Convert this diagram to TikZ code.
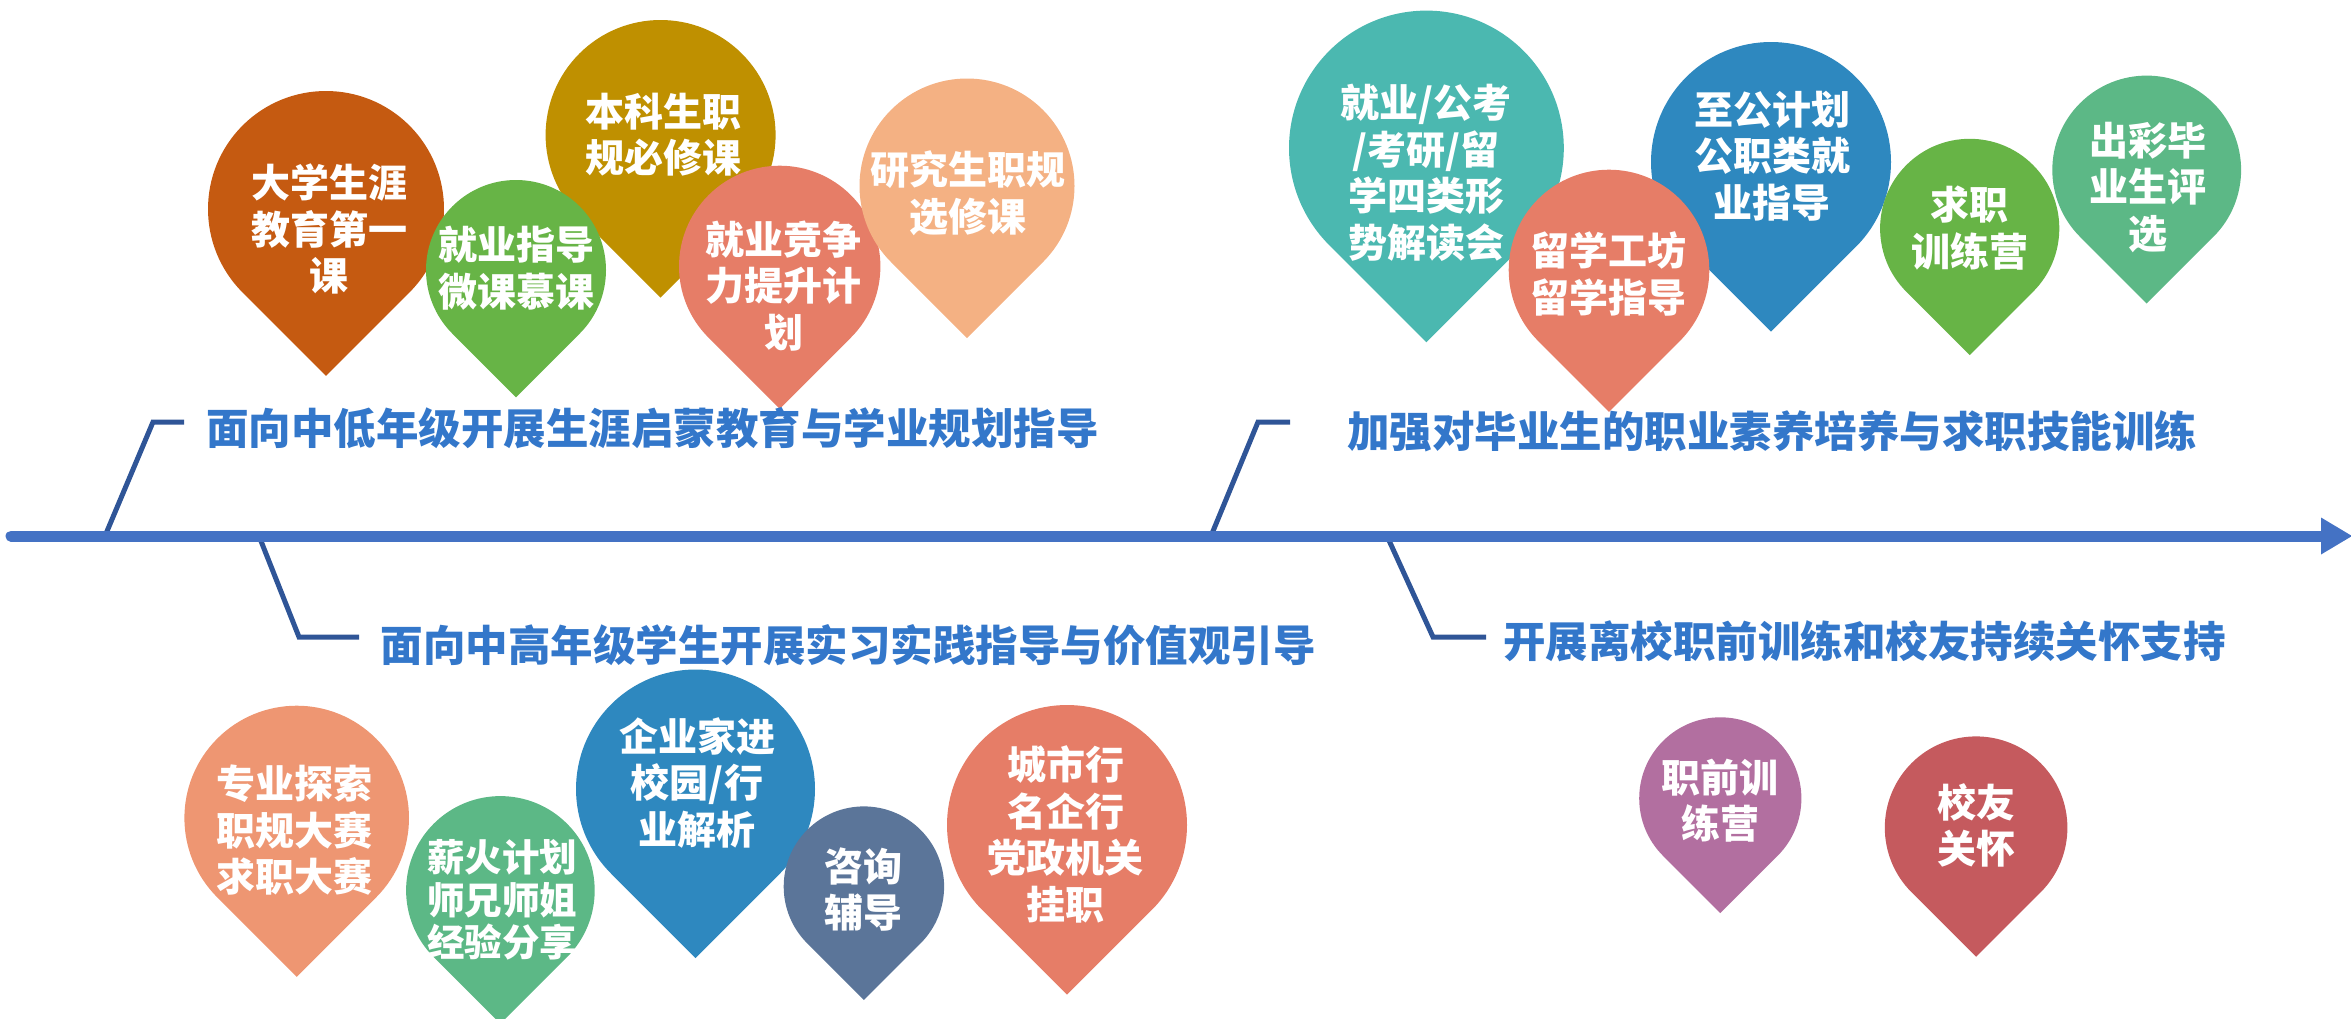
\documentclass[tikz,border=0pt]{standalone}
\usepackage{fontspec}
\setmainfont{Noto Sans CJK SC}
\definecolor{cBrown}{HTML}{C55A11}
\definecolor{cGold}{HTML}{BF9000}
\definecolor{cGreen}{HTML}{67B446}
\definecolor{cSalmon}{HTML}{E67D67}
\definecolor{cPeach}{HTML}{F4B183}
\definecolor{cTeal}{HTML}{4BB8B0}
\definecolor{cBlue}{HTML}{2E88BF}
\definecolor{cGreenB}{HTML}{5CB886}
\definecolor{cOrange}{HTML}{EE9672}
\definecolor{cSlate}{HTML}{5B7599}
\definecolor{cPurple}{HTML}{B26FA0}
\definecolor{cRed}{HTML}{C55A5E}
\definecolor{titleblue}{HTML}{3377CA}
\definecolor{axisblue}{HTML}{4472C4}
\definecolor{brdark}{HTML}{2F5597}
\newcommand\drawpin[4]{\fill[#4] (#1,-#2) ++(-45:#3pt) arc[start angle=-45,end angle=225,radius=#3pt] -- (#1,{-#2-1.41421*#3}) -- cycle;}
\begin{document}
\begin{tikzpicture}[x=1pt,y=1pt,
  pintext/.style={text=white,font=\fontsize{39}{46.5}\selectfont\bfseries,align=center,inner sep=0pt},
  smalltext/.style={pintext,font=\fontsize{37.5}{42.5}\selectfont\bfseries},
  title/.style={text=titleblue,font=\fontsize{42.5}{50}\selectfont\bfseries,anchor=west,inner sep=0pt},
  bracket/.style={draw=brdark,line width=5pt,line join=miter}]
\useasboundingbox (0,0) rectangle (2351,-1018);
% brackets
\coordinate (a1) at (105,-536); \coordinate (k1) at (153,-422); \coordinate (e1) at (184,-422);
\coordinate (a2) at (1211,-536); \coordinate (k2) at (1258,-422); \coordinate (e2) at (1290,-422);
\coordinate (a3) at (259,-536); \coordinate (k3) at (299,-637); \coordinate (e3) at (359,-637);
\coordinate (a4) at (1387,-536); \coordinate (k4) at (1433,-637); \coordinate (e4) at (1486,-637);
\draw[bracket] (a1) -- (k1) -- (e1);
\draw[bracket] (a2) -- (k2) -- (e2);
\draw[bracket] (a3) -- (k3) -- (e3);
\draw[bracket] (a4) -- (k4) -- (e4);
% axis
\coordinate (ax0) at (11,-536); \coordinate (ax1) at (2324,-536);
\draw[axisblue,line width=11pt,line cap=round] (ax0) -- (ax1);
\fill[axisblue] (2321,-517.5) -- (2352,-536) -- (2321,-554.5) -- cycle;
% top-left pins
\drawpin{326}{209}{118}{cBrown}
\drawpin{660.6}{135}{115}{cGold}
\drawpin{516}{270}{90}{cGreen}
\drawpin{779.7}{266.4}{100.7}{cSalmon}
\drawpin{967}{186}{107.5}{cPeach}
% top-right pins
\drawpin{1426.4}{148}{137.4}{cTeal}
\drawpin{1771}{162}{120}{cBlue}
\drawpin{1609}{270}{100.3}{cSalmon}
\drawpin{1969.7}{228.4}{89.6}{cGreen}
\drawpin{2146.7}{170}{94.4}{cGreenB}
% bottom pins
\drawpin{296.7}{818}{112.3}{cOrange}
\drawpin{695.5}{789}{119.5}{cBlue}
\drawpin{500.4}{890.4}{94.3}{cGreenB}
\drawpin{863.9}{886.6}{80.2}{cSlate}
\drawpin{1067}{825}{120}{cSalmon}
\drawpin{1720.3}{798.4}{81.1}{cPurple}
\drawpin{1976.1}{827.7}{91.3}{cRed}
% pin texts
\node[pintext] (p1) at (329,-229) {大学生涯\\教育第一\\课};
\node[pintext] (p2) at (516,-268) {就业指导\\微课慕课};
\node[pintext] (p3) at (663,-134.5) {本科生职\\规必修课};
\node[pintext] (p4) at (783.6,-286) {就业竞争\\力提升计\\划};
\node[pintext] (p5) at (968,-193.5) {研究生职规\\选修课};
\node[pintext] (p6) at (1426,-173) {就业/公考\\/考研/留\\学四类形\\势解读会};
\node[pintext] (p7) at (1608,-274) {留学工坊\\留学指导};
\node[pintext] (p8) at (1772,-156) {至公计划\\公职类就\\业指导};
\node[pintext] (p9) at (1969.7,-228) {求职\\训练营};
\node[pintext] (p10) at (2148,-187.5) {出彩毕\\业生评\\选};
\node[pintext] (b1) at (294.5,-830.4) {专业探索\\职规大赛\\求职大赛};
\node[smalltext] (b2) at (502,-900) {薪火计划\\师兄师姐\\经验分享};
\node[pintext] (b3) at (697,-782.8) {企业家进\\校园/行\\业解析};
\node[pintext] (b4) at (863,-889.7) {咨询\\辅导};
\node[pintext] (b5) at (1065.5,-834.2) {城市行\\名企行\\党政机关\\挂职};
\node[pintext] (b6) at (1720,-800.7) {职前训\\练营};
\node[pintext] (b7) at (1976.5,-825.5) {校友\\关怀};
% titles
\node[title] (t1) at (206,-428.6) {面向中低年级开展生涯启蒙教育与学业规划指导};
\node[title] (t2) at (1347,-431) {加强对毕业生的职业素养培养与求职技能训练};
\node[title] (t3) at (380.5,-645.5) {面向中高年级学生开展实习实践指导与价值观引导};
\node[title] (t4) at (1503,-641.5) {开展离校职前训练和校友持续关怀支持};
\end{tikzpicture}
\end{document}
